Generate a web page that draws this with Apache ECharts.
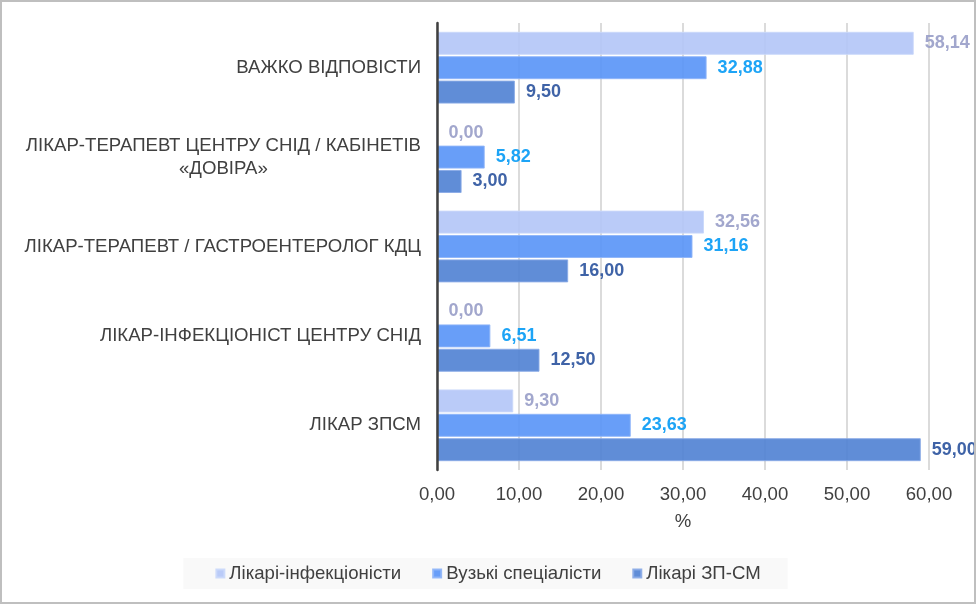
<!DOCTYPE html>
<html>
<head>
<meta charset="utf-8">
<script src="https://cdn.jsdelivr.net/npm/echarts@6/dist/echarts.min.js"></script>
<style>
  html, body { margin: 0; padding: 0; background: #fff; }
  #chart { width: 976px; height: 604px; box-sizing: border-box; border: 2px solid #bfbfbf; }
</style>
</head>
<body>
<div id="chart"></div>
<script>
  // категорії зверху вниз
  var categories = [
    'ВАЖКО ВІДПОВІСТИ',
    'ЛІКАР-ТЕРАПЕВТ ЦЕНТРУ СНІД / КАБІНЕТІВ\n«ДОВІРА»',
    'ЛІКАР-ТЕРАПЕВТ / ГАСТРОЕНТЕРОЛОГ КДЦ',
    'ЛІКАР-ІНФЕКЦІОНІСТ ЦЕНТРУ СНІД',
    'ЛІКАР ЗПСМ'
  ];
  var seriesNames = ['Лікарі-інфекціоністи', 'Вузькі спеціалісти', 'Лікарі ЗП-СМ'];
  var infectData = [58.14, 0.00, 32.56, 0.00, 9.30];
  var narrowData = [32.88, 5.82, 31.16, 6.51, 23.63];
  var gpData = [9.50, 3.00, 16.00, 12.50, 59.00];
  var xTicks = [0, 10, 20, 30, 40, 50, 60];

  var fillColors = ['#b4c7f7', '#5b96f7', '#5283d4'];
  var borderColors = ['#cad8fa', '#8fb5f9', '#8aaae6'];
  var labelColors = ['#9aa0c9', '#0a9cf5', '#2f56a0'];
  var FONT = 'Liberation Sans, Arial, sans-serif';

  function fmt(v) {
    return Number(v).toFixed(2).replace('.', ',');
  }

  var chart = echarts.init(document.getElementById('chart'));

  var series = [infectData, narrowData, gpData].map(function (data, i) {
    return {
      name: seriesNames[i],
      type: 'bar',
      data: data,
      barWidth: 23,
      barGap: '6%',
      itemStyle: {
        color: fillColors[i],
        borderColor: borderColors[i],
        borderWidth: 1,
        opacity: 0.92
      },
      label: {
        show: true,
        position: 'right',
        distance: 11,
        color: labelColors[i],
        fontSize: 18,
        fontWeight: 'bold',
        fontFamily: FONT,
        formatter: function (p) { return fmt(p.value); }
      }
    };
  });

  var option = {
    animation: false,
    backgroundColor: '#fff',
    color: fillColors,
    grid: {
      left: 435,
      right: 45,
      top: 21,
      bottom: 132,
      containLabel: false
    },
    legend: {
      data: seriesNames,
      bottom: 13,
      left: 'center',
      itemWidth: 8,
      itemHeight: 8,
      itemGap: 31,
      icon: 'rect',
      backgroundColor: '#f9f9f9',
      padding: [6, 27, 6, 32],
      textStyle: {
        color: '#404040',
        fontSize: 18.6,
        fontFamily: FONT
      }
    },
    xAxis: {
      type: 'value',
      min: xTicks[0],
      max: xTicks[xTicks.length - 1],
      interval: 10,
      name: '%',
      nameLocation: 'middle',
      nameGap: 42,
      nameTextStyle: {
        color: '#404040',
        fontSize: 18.6,
        fontFamily: FONT
      },
      axisLine: { show: false },
      axisTick: { show: false },
      axisLabel: {
        color: '#404040',
        fontSize: 18.6,
        margin: 15,
        fontFamily: FONT,
        formatter: function (v) { return fmt(v); }
      },
      splitLine: {
        show: true,
        lineStyle: { color: '#cfcfcf', width: 1.5 }
      }
    },
    yAxis: {
      type: 'category',
      data: categories,
      inverse: true,
      z: 5,
      axisLine: {
        show: true,
        lineStyle: { color: '#404040', width: 2.5 }
      },
      axisTick: { show: false },
      axisLabel: {
        color: '#404040',
        fontSize: 18.6,
        margin: 16,
        lineHeight: 23,
        fontFamily: FONT,
        formatter: function (v) {
          return v.split('\n').map(function (s) { return '{c|' + s + '}'; }).join('\n');
        },
        rich: {
          c: {
            align: 'center',
            color: '#404040',
            fontSize: 18.6,
            lineHeight: 23,
            fontFamily: FONT
          }
        }
      }
    },
    series: series
  };

  chart.setOption(option);
</script>
</body>
</html>
